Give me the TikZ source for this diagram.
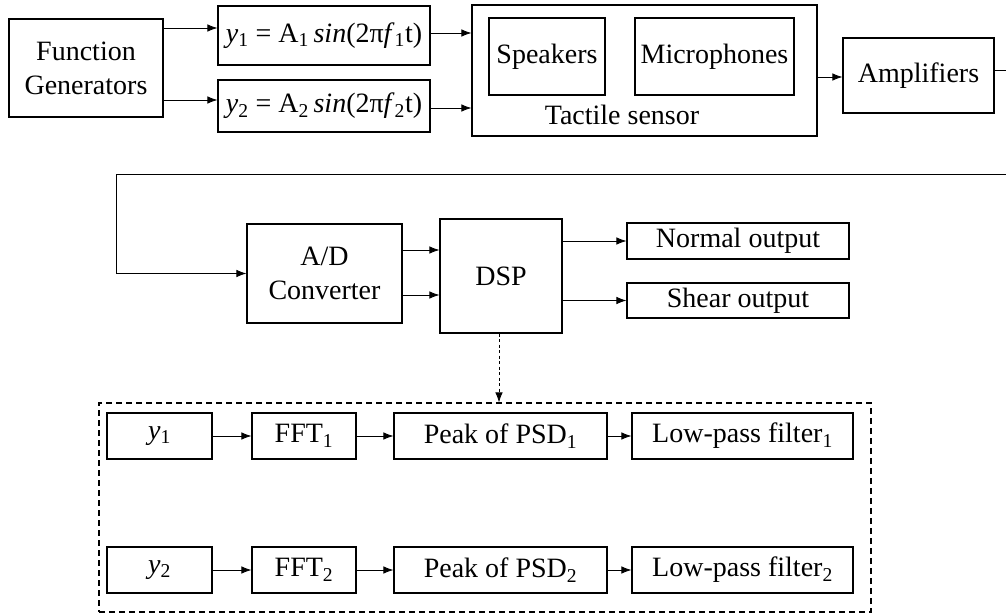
\documentclass[tikz,border=0pt]{standalone}
\usepackage{fontspec}
\setmainfont{Liberation Serif}
\usetikzlibrary{arrows.meta}
\begin{document}
\begin{tikzpicture}[x=1pt,y=-1pt,
  font=\fontsize{28}{34}\selectfont,
  box/.style={draw, line width=1.1pt, inner sep=0pt, align=center},
  arr/.style={-{Latex[length=10pt,width=7.5pt]}, line width=0.8pt},
  ]
\useasboundingbox (0,0) rectangle (1006,615);
% top row
\node[box, minimum width=154pt, minimum height=98pt] (fg) at (86,68) {Function\\Generators};
\node[box, minimum width=212pt, minimum height=59pt] (y1b) at (324,35.5)
  {\textit{y}\textsubscript{1} = A\textsubscript{1}\,\textit{sin}(2π\textit{f}\textsubscript{1}t)};
\node[box, minimum width=212pt, minimum height=52pt] (y2b) at (324,106)
  {\textit{y}\textsubscript{2} = A\textsubscript{2}\,\textit{sin}(2π\textit{f}\textsubscript{2}t)};
\node[box, minimum width=345pt, minimum height=131pt] (tact) at (644.5,70.5) {};
\node[box, minimum width=116pt, minimum height=77pt] (spk) at (547,56.5) {Speakers};
\node[box, minimum width=159pt, minimum height=77pt] (mic) at (714.5,56.5) {Microphones};
\node (tlab) at (622,115) {Tactile sensor};
\node[box, minimum width=151pt, minimum height=75pt] (amp) at (918.5,75.5) {Amplifiers};
% middle row
\node[box, minimum width=155pt, minimum height=99pt] (ad) at (324.5,273.5) {A/D\\Converter};
\node[box, minimum width=122pt, minimum height=114pt] (dsp) at (501,276) {DSP};
\node[box, minimum width=222pt, minimum height=36pt] (norm) at (738,241) {Normal output};
\node[box, minimum width=222pt, minimum height=35pt] (shear) at (738,300.5) {Shear output};
% dashed block
\node[draw, line width=1.1pt, dash pattern=on 6pt off 4pt, inner sep=0pt,
  minimum width=772pt, minimum height=209pt] (dsbox) at (485,507.5) {};
\node[box, minimum width=105pt, minimum height=46pt] (ya) at (159.5,436) {\textit{y}\textsubscript{1}};
\node[box, minimum width=104pt, minimum height=46pt] (fa) at (304,436) {FFT\textsubscript{1}};
\node[box, minimum width=213pt, minimum height=46pt] (pa) at (500.5,436) {Peak of PSD\textsubscript{1}};
\node[box, minimum width=221pt, minimum height=46pt] (la) at (742.5,436) {Low-pass filter\textsubscript{1}};
\node[box, minimum width=105pt, minimum height=46pt] (yb) at (159.5,570) {\textit{y}\textsubscript{2}};
\node[box, minimum width=104pt, minimum height=46pt] (fb) at (304,570) {FFT\textsubscript{2}};
\node[box, minimum width=213pt, minimum height=46pt] (pb) at (500.5,570) {Peak of PSD\textsubscript{2}};
\node[box, minimum width=221pt, minimum height=46pt] (lb) at (742.5,570) {Low-pass filter\textsubscript{2}};
% connectors top
\draw[arr] (fg.east |- 0,28) -- (y1b.west |- 0,28);
\draw[arr] (fg.east |- 0,100) -- (y2b.west |- 0,100);
\draw[arr] (y1b.east |- 0,33) -- (tact.west |- 0,33);
\draw[arr] (y2b.east |- 0,108) -- (tact.west |- 0,108);
\draw[arr] (tact.east |- 0,77) -- (amp.west |- 0,77);
% feedback
\coordinate (r1) at (1015,70);
\coordinate (r2) at (1015,174);
\coordinate (l1) at (116,174);
\draw[arr] (amp.east |- r1) -- (r1) -- (r2) -- (l1) |- (ad.west);
% middle connectors
\draw[arr] (ad.east |- 0,250) -- (dsp.west |- 0,250);
\draw[arr] (ad.east |- 0,295) -- (dsp.west |- 0,295);
\draw[arr] (dsp.east |- norm.west) -- (norm.west);
\draw[arr] (dsp.east |- shear.west) -- (shear.west);
\draw[arr, dash pattern=on 3pt off 2.5pt] (dsp.south -| 499,0) -- (dsbox.north -| 499,0);
% lower connectors
\draw[arr] (ya) -- (fa);
\draw[arr] (fa) -- (pa);
\draw[arr] (pa) -- (la);
\draw[arr] (yb) -- (fb);
\draw[arr] (fb) -- (pb);
\draw[arr] (pb) -- (lb);
\end{tikzpicture}
\end{document}
